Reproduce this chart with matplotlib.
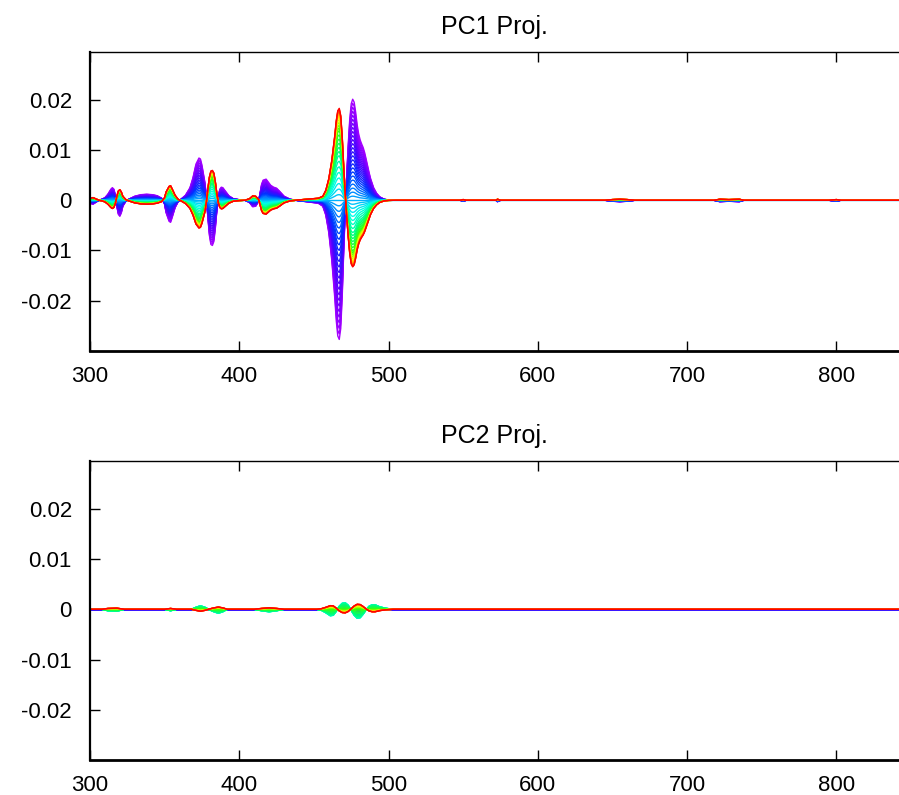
import numpy as np
import matplotlib
matplotlib.use("Agg")
import matplotlib.pyplot as plt
from matplotlib.colors import LinearSegmentedColormap

plt.rcParams['font.family'] = ['Liberation Sans', 'DejaVu Sans']
plt.rcParams['axes.unicode_minus'] = False

# PC1 loading shape (violet curve, weight 1), wavelength in nm
wl1 = [300, 302, 304, 306, 308, 310, 312, 314, 315, 316, 317, 318, 319, 320, 321, 322,
       324, 326, 328, 330, 334, 338, 342, 345, 348, 350, 351, 353, 354, 355, 357, 359,
       361, 364, 367, 369, 371, 373, 374, 375, 377, 378, 379, 380, 381, 382, 383, 384,
       385, 386, 387, 388, 389, 391, 393, 396, 400, 404, 407, 409, 411, 413, 414, 415,
       416, 418, 419, 421, 423, 425, 427, 430, 434, 440, 445, 450, 453, 456, 458, 460,
       462, 464, 465, 466, 467, 468, 469, 470, 471, 472, 473, 474, 475, 476, 477, 478,
       479, 480, 481, 482, 483, 484, 485, 486, 487, 488, 490, 492, 494, 497, 500, 505,
       548, 550, 552, 572, 573, 575, 645, 650, 655, 660, 665, 718, 722, 728, 735, 738,
       795, 800, 803, 845]
pc1 = [-0.0006, -0.0008, -0.0004, 0.0, 0.0002, 0.0005, 0.0012, 0.0022, 0.0025, 0.0022,
       0.0010, -0.0012, -0.0028, -0.0032, -0.0025, -0.0012, -0.0002, 0.0002, 0.0005, 0.0008,
       0.0011, 0.0012, 0.0011, 0.0009, 0.0004, -0.0008, -0.0025, -0.0042, -0.0044, -0.0035,
       -0.0015, -0.0003, 0.0002, 0.0010, 0.0025, 0.0045, 0.0072, 0.0084, 0.0082, 0.0070,
       0.0035, 0.0005, -0.0035, -0.0070, -0.0088, -0.0090, -0.0082, -0.0055, -0.0020, 0.0008,
       0.0022, 0.0026, 0.0025, 0.0017, 0.0009, 0.0003, 0.0001, 0.0, -0.0005, -0.0013,
       -0.0012, -0.0002, 0.0015, 0.0032, 0.0040, 0.0042, 0.0038, 0.0030, 0.0026, 0.0024,
       0.0018, 0.0008, 0.0002, -0.0001, -0.0003, -0.0005, -0.0006, -0.0012, -0.0030, -0.0065,
       -0.0120, -0.0195, -0.0240, -0.0270, -0.0277, -0.0255, -0.0190, -0.0100, -0.0020, 0.0050,
       0.0110, 0.0160, 0.0192, 0.0201, 0.0195, 0.0175, 0.0150, 0.0132, 0.0120, 0.0112,
       0.0105, 0.0095, 0.0082, 0.0068, 0.0055, 0.0043, 0.0025, 0.0014, 0.0007, 0.0002,
       0.00005, 0.0, 0.0, -0.0002, 0.0, 0.0, -0.0003, 0.0, 0.0, -0.0002,
       -0.0003, -0.0002, 0.0, 0.0, -0.0003, -0.0002, -0.0003, 0.0, 0.0, -0.0002,
       0.0, 0.0]

# PC2 loading shape (green curve, weight 1)
wl2 = [300, 308, 312, 318, 323, 350, 354, 358, 368, 371, 374, 377, 380, 383, 386, 389,
       392, 410, 415, 420, 425, 430, 452, 455, 458, 461, 463, 465, 467, 469, 471, 473,
       475, 477, 479, 481, 483, 485, 487, 489, 491, 494, 498, 503, 845]
pc2 = [0.0, 0.0, -0.0003, -0.0004, 0.0, 0.0, -0.0003, 0.0, 0.0, 0.0004, 0.0007, 0.0004,
       -0.0001, -0.0005, -0.0008, -0.0005, 0.0, 0.0, -0.0003, -0.0005, -0.0003, 0.0,
       0.0, -0.0002, -0.0007, -0.0013, -0.0012, -0.0004, 0.0006, 0.0012, 0.0013, 0.0008,
       -0.0002, -0.0012, -0.0018, -0.0017, -0.0010, -0.0001, 0.0006, 0.0009, 0.0009, 0.0005,
       0.0002, 0.0, 0.0]

# projection weight of each spectrum (one curve per spectrum, in order)
w1 = [1.00, 0.96, 0.92, 0.88, 0.84, 0.80, 0.76, 0.72, 0.68, 0.64, 0.60, 0.56, 0.52,
      0.48, 0.44, 0.40, 0.36, 0.32, 0.28, 0.24, 0.20, 0.16, 0.12, 0.08, 0.04, 0.00,
      -0.04, -0.08, -0.12, -0.16, -0.20, -0.24, -0.28, -0.32, -0.35, -0.38, -0.41,
      -0.44, -0.47, -0.50, -0.52, -0.54, -0.56, -0.58, -0.60, -0.615, -0.63, -0.64,
      -0.65, -0.655, -0.66]
w2 = [0.0, 0.0, 0.0, 0.0, 0.0, 0.0, 0.0, 0.0, 0.0, 0.0, 0.0, 0.0, 0.0, 0.0, 0.0,
      0.0, 0.0, 0.02, 0.05, 0.10, 0.17, 0.26, 0.36, 0.47, 0.58, 0.68, 0.77, 0.85,
      0.92, 0.97, 1.00, 1.00, 0.97, 0.90, 0.80, 0.66, 0.50, 0.34, 0.19, 0.06, -0.06,
      -0.16, -0.25, -0.33, -0.40, -0.45, -0.49, -0.52, -0.54, -0.55, -0.56]

yticks = [0.02, 0.01, 0.0, -0.01, -0.02]
ylabels = ['0.02', '0.01', '0', '-0.01', '-0.02']
xticks = [300, 400, 500, 600, 700, 800]
titles = ['PC1 Proj.', 'PC2 Proj.']

palette = LinearSegmentedColormap.from_list('spec', [
    (0.00, '#a800ff'), (0.20, '#5000ff'), (0.35, '#0030ff'), (0.50, '#00b0ff'),
    (0.58, '#00ffe8'), (0.70, '#00ff70'), (0.80, '#40ff00'), (0.88, '#ffff00'),
    (0.94, '#ff8000'), (1.00, '#ff0000')])

fig = plt.figure(figsize=(8.99, 7.95), dpi=100)
boxes = [[0.1001, 0.5585, 0.8999, 0.3761], [0.1001, 0.0440, 0.8999, 0.3761]]

for box, wl, shape, weights, title in zip(boxes, [wl1, wl2], [pc1, pc2], [w1, w2], titles):
    ax = fig.add_axes(box)
    shape = np.array(shape)
    n = len(weights)
    for i, w in enumerate(weights):
        ax.plot(wl, w * shape, color=palette(i / (n - 1)), lw=1.0)
    ax.set_xlim(300, 842)
    ax.set_ylim(-0.0300, 0.0295)
    ax.set_xticks(xticks)
    ax.set_yticks(yticks, labels=ylabels)
    ax.tick_params(direction='in', length=7, width=1, top=True, right=False,
                   labelsize=16, colors='#000000')
    ax.tick_params(axis='x', pad=11)
    ax.tick_params(axis='y', pad=13)
    ax.spines['right'].set_visible(False)
    ax.spines['left'].set_linewidth(1.6)
    ax.spines['bottom'].set_linewidth(2.0)
    ax.spines['top'].set_linewidth(1.0)
    ax.set_title(title, fontsize=18, pad=13)

fig.savefig('out.png', dpi=100)
